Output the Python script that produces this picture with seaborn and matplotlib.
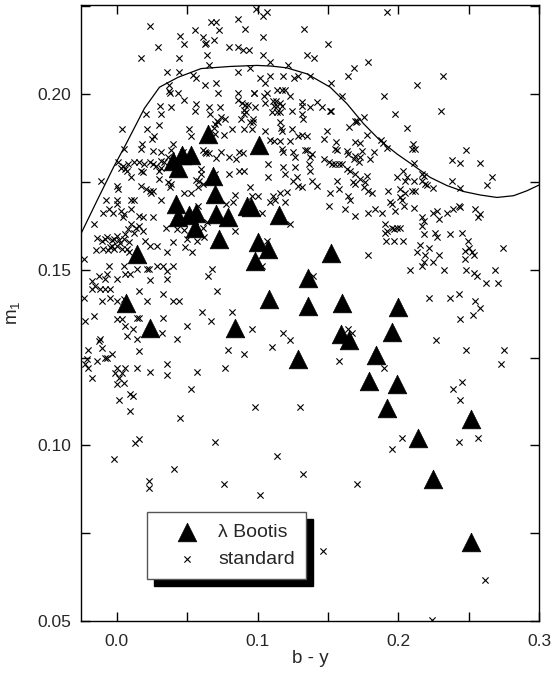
import numpy as np
import pandas as pd
import matplotlib
matplotlib.use("Agg")
import matplotlib.pyplot as plt
from matplotlib.ticker import MultipleLocator, FormatStrFormatter
import seaborn as sns

# lambda Bootis stars (b-y, m1)
lb_by = [0.0063, 0.0145, 0.0238, 0.0400, 0.0460, 0.0525, 0.0434, 0.0645, 0.1010, 0.0682,
         0.0694, 0.0421, 0.0434, 0.0516, 0.0564, 0.0552, 0.0706, 0.0789, 0.0729, 0.0925,
         0.0955, 0.1155, 0.1005, 0.1075, 0.0980, 0.1525, 0.1355, 0.1080, 0.1355, 0.1600,
         0.2000, 0.0838, 0.1595, 0.1650, 0.1955, 0.1290, 0.1840, 0.1795, 0.1990, 0.1920,
         0.2520, 0.2140, 0.2250, 0.2520]
lb_m1 = [0.1405, 0.1546, 0.1335, 0.1809, 0.1827, 0.1827, 0.1790, 0.1888, 0.1855, 0.1768,
         0.1716, 0.1687, 0.1651, 0.1655, 0.1661, 0.1618, 0.1659, 0.1650, 0.1588, 0.1681,
         0.1678, 0.1656, 0.1578, 0.1559, 0.1525, 0.1547, 0.1476, 0.1416, 0.1397, 0.1405,
         0.1395, 0.1335, 0.1318, 0.1299, 0.1324, 0.1246, 0.1256, 0.1184, 0.1175, 0.1107,
         0.1075, 0.1022, 0.0904, 0.0724]

# standard stars
std_by = [
    0.0237, 0.0670, 0.0705, 0.0864, 0.0556, 0.0725, 0.0448, 0.0476, 0.0611, 0.0628, 0.0635, 0.0689,
    0.0289, 0.0800, 0.0860, 0.0168, 0.0441, 0.0637, 0.0658, 0.0358, 0.0441, 0.0540, 0.0564, 0.0860,
    0.0623, 0.0701, 0.0372, 0.0372, 0.0374, 0.0434, 0.0718, 0.0860, 0.0860, 0.0480, 0.0308, 0.0381,
    0.0315, 0.0559, 0.0552, 0.0658, 0.0736, 0.0660, 0.0737, 0.0210, 0.0715, 0.0700, 0.0690, 0.0720,
    0.0770, 0.0038, 0.0215, 0.0298, 0.0267, 0.0249, 0.0512, 0.0528, 0.0760, 0.0820, 0.0700, 0.0180,
    0.0398,
    0.0054, 0.0173, 0.0256, 0.0315, 0.0386, 0.0469, 0.0610, 0.0635, 0.0658, 0.0706, 0.0800, 0.0848,
    0.0871, 0.0010, 0.0040, 0.0070, 0.0060, 0.0030, 0.0080, 0.0125, 0.0160, 0.0196, 0.0232, 0.0256,
    0.0280, 0.0315, 0.0338, 0.0362, 0.0102, 0.0173, 0.0185, 0.0300, 0.0310, 0.0386, -0.0110, 0.0000,
    0.0010, 0.0173, 0.0208, 0.0232, 0.0244, 0.0256, 0.0315, 0.0300, 0.0360, 0.0374, 0.0587, 0.0576,
    0.0600, -0.0076, 0.0000, 0.0000, 0.0102, 0.0125, -0.0053, -0.0100, -0.0028, 0.0030, 0.0054, 0.0043,
    0.0102, 0.0160, 0.0185, 0.0256, -0.0160, 0.0102, 0.0137, 0.0125, 0.0078, 0.0160, 0.0185, 0.0836,
    0.0824, 0.0867, 0.0800, 0.0525, 0.0560, 0.0610, 0.0475, 0.0575, 0.0610, 0.0640, 0.0475, 0.0350,
    0.0775, 0.0840, 0.0700, 0.0740, 0.0625, 0.0600, 0.0424,
    0.0990, 0.1038, 0.1066, 0.1919, 0.0912, 0.1333, 0.1038, 0.1500, 0.0895, 0.0936, 0.1038, 0.1090,
    0.1350, 0.1398, 0.1788, 0.1215, 0.0947, 0.1682, 0.1639, 0.1014, 0.1054, 0.1090, 0.1180, 0.1260,
    0.1290, 0.1369, 0.1521, 0.0974, 0.0976, 0.1066, 0.1047, 0.1141, 0.1173, 0.1196, 0.1232, 0.1600,
    0.1900, 0.0890, 0.0910, 0.0930, 0.0900, 0.0915, 0.0983, 0.1055, 0.1110, 0.1130, 0.1120, 0.1140,
    0.1160, 0.1170, 0.1140, 0.1160, 0.1100, 0.1318, 0.1318, 0.1318, 0.1374, 0.1421, 0.1457, 0.1244,
    0.1516, 0.1520, 0.1978, 0.0970, 0.0970, 0.0947, 0.0905, 0.0880, 0.1160, 0.1165, 0.1320, 0.1695,
    0.1705, 0.1700, 0.1753, 0.1651, 0.0900, 0.0960, 0.1054, 0.1170, 0.1244, 0.1315, 0.1493, 0.1777,
    0.1350, 0.1290, 0.1469, 0.1090, 0.1120, 0.1160, 0.1230, 0.1880, 0.1890, 0.1690, 0.1730, 0.1556,
    0.0895, 0.1170, 0.1180, 0.1255, 0.1267, 0.1338, 0.1350, 0.1374, 0.1386, 0.1469, 0.1504, 0.1528,
    0.1551, 0.1575, 0.1600, 0.1551, 0.1564, 0.1635, 0.1646, 0.1682, 0.1694, 0.1718, 0.1730, 0.1742,
    0.1801, 0.1825, 0.1635, 0.1658, 0.1694, 0.1920, 0.1077, 0.1184, 0.1196, 0.1267, 0.1362, 0.1374,
    0.1077, 0.1255, 0.1280, 0.1290, 0.1315, 0.1386, 0.1421, 0.1564, 0.1575, 0.1516, 0.1694, 0.1765,
    0.1777, 0.1788, 0.1812, 0.1753, 0.1930, 0.1990, 0.0947, 0.0960, 0.1006, 0.1113, 0.1160, 0.1208,
    0.1125, 0.1090, 0.1196, 0.1646, 0.1658, 0.1511, 0.1623, 0.1694, 0.1788, 0.1836, 0.1883, 0.1954,
    0.1978, 0.1942, 0.0900, 0.1030, 0.1232, 0.1907, 0.1919, 0.1954, 0.1990, 0.1966, 0.1677, 0.1729,
    0.2321, 0.2132, 0.2303, 0.2061, 0.2104, 0.2097, 0.2120, 0.2483, 0.2380, 0.2440, 0.2580, 0.2108,
    0.2033, 0.2061, 0.2049, 0.2108, 0.2168, 0.2180, 0.2168, 0.2191, 0.2203, 0.2250, 0.2380, 0.2440,
    0.2665, 0.2630, 0.2013, 0.2049, 0.2097, 0.2120, 0.2025, 0.2013, 0.2037, 0.2108, 0.2168, 0.2180,
    0.2168, 0.2250, 0.2274, 0.2286, 0.2345, 0.2392, 0.2428, 0.2440, 0.2547, 0.2582, 0.2563, 0.2013,
    -0.0237, -0.0142, -0.0107, -0.0083, -0.0071, -0.0036, -0.0024, 0.0000, 0.0012, 0.0047, 0.0059, 0.0083,
    -0.0047, -0.0036, 0.0000, 0.0036, 0.0071, 0.0083, -0.0150, -0.0100, -0.0060, 0.0020, -0.0020, 0.0201,
    0.0237, 0.0284, 0.0355, 0.0402, 0.0485, 0.0533, 0.0569, 0.0616, 0.0498, -0.0053, 0.0047, 0.0095,
    0.0142, 0.0213, 0.0225, 0.0284, 0.0331, 0.0355, 0.0402, 0.0675, 0.0651, 0.0237, 0.0355, 0.0154,
    0.0059, 0.0000, -0.0083, -0.0071, -0.0130, -0.0178, -0.0154, -0.0178, -0.0119, -0.0083, -0.0047, -0.0107,
    -0.0047, 0.0000, 0.0047, -0.0237, -0.0225, -0.0166, 0.0213, 0.0331, 0.0402, 0.0438, 0.0000, 0.0036,
    0.0142, 0.0154, 0.0059, 0.0118, 0.0071, 0.0142, 0.0331, 0.0426, 0.0320, 0.0498, 0.0604, 0.0668,
    0.0711, 0.0817, 0.0959, -0.0119, -0.0130, -0.0107, -0.0083, -0.0071, -0.0036, -0.0142, -0.0202, -0.0213,
    -0.0202, -0.0225, -0.0178, 0.0000, 0.0059, -0.0012, 0.0012, 0.0036, 0.0000, 0.0047, 0.0095, 0.0118,
    0.0095, 0.0012, 0.0142, 0.0154, 0.0237, 0.0355, 0.0355, 0.0569, 0.0528, 0.0450, 0.0770, 0.0793,
    0.0900, 0.1102, 0.1184, 0.1232, 0.0978, 0.1298, 0.0130, 0.0154, 0.0699, -0.0024, 0.1137, 0.0407,
    0.1326, 0.1066, 0.1030,
    0.0225, 0.0230, 0.0758, 0.1018, 0.1710, 0.1464, 0.2618, 0.2243,
    0.1907, 0.2180, 0.2262, 0.2274, 0.2364, 0.2452, 0.1914, 0.1966, 0.2033, 0.2156, 0.2215, 0.2132,
    0.2191, 0.2286, 0.2180, 0.2250, 0.2168, 0.2492, 0.2476, 0.2499, 0.2523, 0.2535, 0.2476, 0.2743,
    0.1788, 0.2080, 0.2328, 0.2483, 0.2535, 0.2559, 0.2689, 0.2623, 0.2712, 0.1397, 0.2215, 0.2364,
    0.2433, 0.2542, 0.2582, 0.2530, 0.2440, 0.1646, 0.1670, 0.2269, 0.2480, 0.2753, 0.2731, 0.1582,
    0.1900, 0.2452, 0.2392, 0.2440, 0.2025, 0.1954, 0.2433, 0.2563,
]
std_m1 = [
    0.2194, 0.2205, 0.2205, 0.2213, 0.2184, 0.2184, 0.2165, 0.2144, 0.2163, 0.2144, 0.2146, 0.2153,
    0.2134, 0.2134, 0.2134, 0.2104, 0.2104, 0.2113, 0.2084, 0.2063, 0.2063, 0.2056, 0.2046, 0.2063,
    0.2025, 0.2033, 0.2025, 0.2010, 0.2004, 0.2004, 0.2004, 0.2004, 0.1984, 0.1984, 0.1965, 0.1963,
    0.1944, 0.1973, 0.1953, 0.1963, 0.1963, 0.1944, 0.1934, 0.1944, 0.1925, 0.1915, 0.1905, 0.1920,
    0.1928, 0.1901, 0.1901, 0.1913, 0.1882, 0.1873, 0.1901, 0.1882, 0.1885, 0.1900, 0.1887, 0.1859,
    0.1859,
    0.1845, 0.1845, 0.1838, 0.1835, 0.1840, 0.1835, 0.1840, 0.1832, 0.1832, 0.1818, 0.1820, 0.1815,
    0.1835, 0.1806, 0.1796, 0.1782, 0.1786, 0.1790, 0.1800, 0.1806, 0.1806, 0.1800, 0.1806, 0.1800,
    0.1795, 0.1810, 0.1806, 0.1822, 0.1763, 0.1782, 0.1778, 0.1782, 0.1790, 0.1744, 0.1754, 0.1740,
    0.1730, 0.1740, 0.1730, 0.1725, 0.1720, 0.1725, 0.1700, 0.1759, 0.1749, 0.1735, 0.1754, 0.1735,
    0.1773, 0.1700, 0.1700, 0.1687, 0.1700, 0.1700, 0.1673, 0.1663, 0.1663, 0.1668, 0.1659, 0.1649,
    0.1673, 0.1654, 0.1649, 0.1649, 0.1630, 0.1630, 0.1620, 0.1606, 0.1616, 0.1625, 0.1611, 0.1611,
    0.1692, 0.1782, 0.1773, 0.1718, 0.1755, 0.1743, 0.1718, 0.1683, 0.1619, 0.1637, 0.1612, 0.1619,
    0.1687, 0.1712, 0.1774, 0.1836, 0.1836, 0.1786, 0.1617,
    0.2242, 0.2224, 0.2234, 0.2234, 0.2185, 0.2185, 0.2163, 0.2144, 0.2125, 0.2125, 0.2113, 0.2093,
    0.2113, 0.2104, 0.2093, 0.2082, 0.2074, 0.2074, 0.2053, 0.2046, 0.2033, 0.2053, 0.2053, 0.2046,
    0.2051, 0.2053, 0.2033, 0.2004, 0.2002, 0.2004, 0.1994, 0.2013, 0.2013, 0.2013, 0.1994, 0.1994,
    0.1994, 0.1975, 0.1968, 0.1970, 0.1955, 0.1948, 0.1963, 0.1975, 0.1980, 0.1980, 0.1965, 0.1965,
    0.1975, 0.1965, 0.1950, 0.1950, 0.1948, 0.1978, 0.1965, 0.1945, 0.1963, 0.1978, 0.1963, 0.1951,
    0.1953, 0.1951, 0.1944, 0.1930, 0.1920, 0.1922, 0.1944, 0.1930, 0.1920, 0.1905, 0.1930, 0.1925,
    0.1925, 0.1922, 0.1934, 0.1906, 0.1900, 0.1900, 0.1894, 0.1895, 0.1900, 0.1885, 0.1894, 0.1884,
    0.1882, 0.1882, 0.1873, 0.1870, 0.1866, 0.1868, 0.1866, 0.1870, 0.1862, 0.1865, 0.1862, 0.1865,
    0.1833, 0.1844, 0.1835, 0.1835, 0.1820, 0.1842, 0.1842, 0.1820, 0.1830, 0.1816, 0.1806, 0.1801,
    0.1801, 0.1801, 0.1801, 0.1844, 0.1842, 0.1839, 0.1830, 0.1816, 0.1825, 0.1806, 0.1820, 0.1839,
    0.1816, 0.1835, 0.1787, 0.1782, 0.1773, 0.1848, 0.1801, 0.1792, 0.1773, 0.1792, 0.1801, 0.1782,
    0.1763, 0.1754, 0.1763, 0.1740, 0.1735, 0.1754, 0.1740, 0.1754, 0.1730, 0.1720, 0.1744, 0.1749,
    0.1768, 0.1725, 0.1720, 0.1735, 0.1725, 0.1763, 0.1735, 0.1711, 0.1711, 0.1711, 0.1720, 0.1722,
    0.1700, 0.1692, 0.1692, 0.1711, 0.1700, 0.1682, 0.1673, 0.1652, 0.1663, 0.1673, 0.1663, 0.1687,
    0.1668, 0.1692, 0.1782, 0.1663, 0.1630, 0.1630, 0.1611, 0.1620, 0.1620, 0.1616, 0.1749, 0.1759,
    0.2053, 0.2025, 0.1953, 0.1903, 0.1859, 0.1844, 0.1844, 0.1842, 0.1814, 0.1804, 0.1804, 0.1804,
    0.1782, 0.1763, 0.1754, 0.1754, 0.1773, 0.1768, 0.1754, 0.1744, 0.1742, 0.1732, 0.1754, 0.1732,
    0.1763, 0.1742, 0.1730, 0.1720, 0.1725, 0.1725, 0.1700, 0.1706, 0.1682, 0.1675, 0.1649, 0.1640,
    0.1626, 0.1663, 0.1668, 0.1644, 0.1661, 0.1673, 0.1682, 0.1680, 0.1673, 0.1659, 0.1649, 0.1620,
    0.1530, 0.1590, 0.1583, 0.1588, 0.1592, 0.1585, 0.1588, 0.1595, 0.1585, 0.1588, 0.1601, 0.1578,
    0.1566, 0.1569, 0.1569, 0.1559, 0.1559, 0.1550, 0.1555, 0.1560, 0.1555, 0.1575, 0.1560, 0.1583,
    0.1568, 0.1568, 0.1552, 0.1578, 0.1564, 0.1552, 0.1583, 0.1592, 0.1588, 0.1511, 0.1511, 0.1488,
    0.1502, 0.1502, 0.1502, 0.1511, 0.1511, 0.1497, 0.1511, 0.1502, 0.1483, 0.1470, 0.1473, 0.1440,
    0.1488, 0.1473, 0.1473, 0.1488, 0.1483, 0.1469, 0.1455, 0.1445, 0.1445, 0.1445, 0.1445, 0.1412,
    0.1421, 0.1412, 0.1416, 0.1421, 0.1355, 0.1369, 0.1412, 0.1431, 0.1412, 0.1412, 0.1360, 0.1360,
    0.1363, 0.1363, 0.1340, 0.1331, 0.1312, 0.1302, 0.1363, 0.1302, 0.1321, 0.1340, 0.1381, 0.1353,
    0.1440, 0.1381, 0.1331, 0.1302, 0.1297, 0.1278, 0.1250, 0.1250, 0.1259, 0.1240, 0.1271, 0.1245,
    0.1221, 0.1231, 0.1193, 0.1221, 0.1221, 0.1207, 0.1193, 0.1207, 0.1174, 0.1178, 0.1145, 0.1141,
    0.1098, 0.1128, 0.1221, 0.1269, 0.1210, 0.1231, 0.1200, 0.1210, 0.1160, 0.1079, 0.1221, 0.1271,
    0.1259, 0.1280, 0.1321, 0.1300, 0.1109, 0.1109, 0.1007, 0.1017, 0.1009, 0.0960, 0.0969, 0.0932,
    0.0919, 0.1583, 0.1511,
    0.0898, 0.0879, 0.0889, 0.0858, 0.0889, 0.0698, 0.0618, 0.0502,
    0.1606, 0.1602, 0.1604, 0.1592, 0.1602, 0.1606, 0.1581, 0.1581, 0.1581, 0.1571, 0.1562, 0.1550,
    0.1543, 0.1543, 0.1521, 0.1521, 0.1511, 0.1583, 0.1554, 0.1562, 0.1550, 0.1543, 0.1530, 0.1562,
    0.1543, 0.1500, 0.1500, 0.1500, 0.1492, 0.1483, 0.1500, 0.1461, 0.1461, 0.1483, 0.1421, 0.1421,
    0.1432, 0.1412, 0.1391, 0.1372, 0.1361, 0.1331, 0.1321, 0.1300, 0.1271, 0.1271, 0.1231, 0.1240,
    0.1221, 0.1180, 0.1160, 0.1129, 0.1020, 0.0989, 0.1009, 0.1020,
]

# boundary curve
curve_by = [-0.0255, -0.0135, -0.0024, 0.0066, 0.0196, 0.0303, 0.0434, 0.0599, 0.0805,
            0.0995, 0.1100, 0.1208, 0.1350, 0.1516, 0.1635, 0.1753, 0.1871, 0.1990,
            0.2108, 0.2227, 0.2345, 0.2463, 0.2582, 0.2701, 0.2819, 0.2914, 0.3004]
curve_m1 = [0.1603, 0.1702, 0.1792, 0.1859, 0.1960, 0.2020, 0.2048, 0.2073, 0.2079,
            0.2082, 0.2080, 0.2075, 0.2058, 0.2020, 0.1973, 0.1916, 0.1868, 0.1830,
            0.1797, 0.1763, 0.1740, 0.1723, 0.1713, 0.1706, 0.1711, 0.1725, 0.1742]

std = pd.DataFrame({'by': std_by, 'm1': std_m1})
lb = pd.DataFrame({'by': lb_by, 'm1': lb_m1})
curve = pd.DataFrame({'by': curve_by, 'm1': curve_m1})

sns.set_style('ticks')
plt.rcParams['font.family'] = ['Liberation Sans', 'DejaVu Sans']
plt.rcParams['mathtext.fontset'] = 'custom'
plt.rcParams['mathtext.rm'] = 'Liberation Sans'

fig = plt.figure(figsize=(5.53, 6.84), dpi=100)
ax = fig.add_axes([0.1465, 0.0921, 0.8282, 0.9006])

sns.lineplot(data=curve, x='by', y='m1', color='black', linewidth=0.9, sort=False, ax=ax)
sns.scatterplot(data=std, x='by', y='m1', marker='x', s=20, color='black',
                linewidth=0.8, label='standard', ax=ax, zorder=3)
sns.scatterplot(data=lb, x='by', y='m1', marker='^', s=180, color='black',
                edgecolor='black', linewidth=0.5, label=u'\u03bb Bootis', ax=ax, zorder=4)

ax.set_xlim(-0.0255, 0.3)
ax.set_ylim(0.05, 0.2254)
ax.xaxis.set_major_locator(MultipleLocator(0.1))
ax.xaxis.set_minor_locator(MultipleLocator(0.05))
ax.yaxis.set_major_locator(MultipleLocator(0.05))
ax.yaxis.set_minor_locator(MultipleLocator(0.025))
ax.xaxis.set_major_formatter(FormatStrFormatter('%.1f'))
ax.yaxis.set_major_formatter(FormatStrFormatter('%.2f'))
ax.tick_params(which='both', direction='in', top=True, right=True, length=6.5, width=1.0,
               color='black')
ax.tick_params(axis='x', which='major', labelsize=12.5, pad=9)
ax.tick_params(axis='y', which='major', labelsize=12.5, pad=7)
for sp in ax.spines.values():
    sp.set_linewidth(1.0)
    sp.set_color('black')

ax.set_xlabel('b - y', fontsize=13.5, labelpad=1)
ax.set_ylabel(r'$\mathregular{m_1}$', fontsize=13.5, labelpad=11)

h, l = ax.get_legend_handles_labels()
order = [l.index(u'\u03bb Bootis'), l.index('standard')]
ax.legend([h[i] for i in order], [l[i] for i in order], loc='upper left',
          bbox_to_anchor=(0.144, 0.177), borderaxespad=0, fontsize=14, frameon=True,
          fancybox=False, framealpha=1, edgecolor='#555555', borderpad=0.6,
          handlelength=2.9, handletextpad=0.15, labelspacing=0.45,
          shadow={'ox': 5, 'oy': -5, 'facecolor': 'black', 'edgecolor': 'black', 'alpha': 1})

fig.savefig('out.png', dpi=100)
